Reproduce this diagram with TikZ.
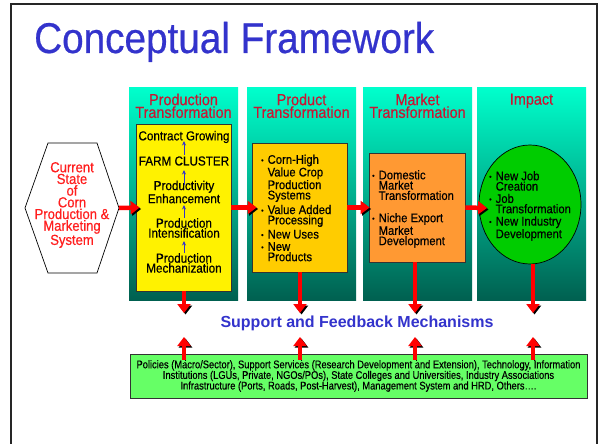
\documentclass[tikz,border=0pt]{standalone}
\usepackage{fontspec}
\setmainfont{Liberation Sans}
\newfontfamily\narrowfont[FakeStretch=0.9,FakeBold=0.5]{Liberation Sans}
\newfontfamily\slimfont[FakeStretch=0.84,FakeBold=0.4]{Liberation Sans}
\usetikzlibrary{calc,arrows.meta,shapes.geometric}
\definecolor{titleblue}{RGB}{51,51,204}
\definecolor{headred}{RGB}{204,20,50}
\definecolor{hexred}{RGB}{255,30,30}
\definecolor{coltop}{RGB}{0,255,204}
\definecolor{colbot}{RGB}{0,96,80}
\definecolor{boxgold}{RGB}{255,204,0}
\definecolor{boxorange}{RGB}{255,153,51}
\definecolor{ellgreen}{RGB}{0,204,0}
\definecolor{supgreen}{RGB}{102,255,102}
\def\bul{\makebox[6.5pt][l]{\raisebox{1pt}{\scalebox{0.6}{\textbullet}}}}
\def\ind{\hspace*{6.5pt}}

\begin{document}
\begin{tikzpicture}[x=1pt,y=-1pt,
  column/.style={minimum width=109, minimum height=212, inner sep=0, top color=coltop, bottom color=colbot},
  head/.style={text=headred, font=\narrowfont\fontsize{16}{11.5}\selectfont, align=center, inner sep=0},
  stage/.style={draw=black!80, line width=0.8pt, inner sep=0},
  item/.style={font=\narrowfont\fontsize{13}{10}\selectfont, align=center, inner sep=0},
  blist/.style={font=\narrowfont\fontsize{12.5}{10.3}\selectfont, align=left, inner sep=0, anchor=west},
  redarr/.style={draw=red, line width=4.5pt, -{Triangle[length=9pt,width=13pt]},
    preaction={draw=black, transform canvas={shift={(1.5pt,-1.5pt)}}}},
  bluearr/.style={draw=titleblue, line width=1pt, -{Stealth[length=4.5pt,width=4pt]}}]
			%%%%% START %%%%%
			\useasboundingbox (0,0) rectangle (600,444);
			\clip (0,0) rectangle (600,444);
			\fill[white] (0,0) rectangle (600,444);
			\draw[line width=1.5pt, draw=black!85] (11,4) rectangle (597,470);
			
			\node[anchor=base west, inner sep=0, text=titleblue, font=\narrowfont\fontsize{43}{43}\selectfont] (title) at (34,53) {Conceptual Framework};
			
			% the four columns
			\node[column] (c1) at (183.5,194) {};
			\node[column] (c2) at (301.5,194) {};
			\node[column] (c3) at (417.5,194) {};
			\node[column] (c4) at (531.5,194) {};
			
			\node[head] (h1) at ($(c1.north)+(0,18)$) {Production\\Transformation};
			\node[head] (h2) at ($(c2.north)+(0,18)$) {Product\\Transformation};
			\node[head] (h3) at ($(c3.north)+(0,18)$) {Market\\Transformation};
			\node[head] (h4) at ($(c4.north)+(0,13)$) {Impact};
			
			% current state
			\draw[line width=0.7pt, fill=white] (25,208) -- (48,143) -- (97,143) -- (119,208) -- (97,273) -- (48,273) -- cycle;
			\coordinate (curE) at (119,208);
			\node[text=hexred, font=\narrowfont\fontsize{14.5}{11.7}\selectfont, align=center, inner sep=0] (cur) at (72,205)
				{Current\\State\\of\\Corn\\Production \&\\Marketing\\System};
			
			% production transformation
			\node[stage, fill=yellow, minimum width=95, minimum height=167] (yel) at (183.5,207.5) {};
			\node[item] (p1) at (184,137) {Contract Growing};
			\node[item] (p2) at (184,161) {FARM CLUSTER};
			\node[item] (p3) at (184,192) {Productivity\\Enhancement};
			\node[item] (p4) at (184,228) {Production\\Intensification};
			\node[item] (p5) at (184,263) {Production\\Mechanization};
			\draw[bluearr] ($(p2)+(0,-6)$) -- ($(p1)+(0,4)$);
			\draw[bluearr] ($(p3)+(0,-7)$) -- ($(p2)+(0,9)$);
			\draw[bluearr] ($(p4)+(0,-10)$) -- ($(p3)+(0,13)$);
			\draw[bluearr] ($(p5)+(0,-10)$) -- ($(p4)+(0,13)$);
			
			% product transformation
			\node[stage, fill=boxgold, minimum width=95, minimum height=129] (pt) at (299.5,207.5) {};
			\node[blist] (ptl) at (261,208) {\bul Corn-High\\\ind Value Crop\\\ind Production\\\ind Systems\\[2pt]\bul Value Added\\\ind Processing\\[2pt]\bul New Uses\\[2pt]\bul New\\\ind Products};
			
			% market transformation
			\node[stage, fill=boxorange, minimum width=96, minimum height=109] (mt) at (417,207.5) {};
			\node[blist] (mtl) at (372,209) {\bul Domestic\\\ind Market\\\ind Transformation\\[12pt]\bul Niche Export\\\ind Market\\\ind Development};
			
			% impact
			\node[ellipse, draw=black, line width=0.7pt, fill=ellgreen, minimum width=102, minimum height=119, inner sep=0] (ell) at (530,204.5) {};
			\node[blist] (elltxt) at (489,206) {\bul New Job\\\ind Creation\\[2pt]\bul Job\\\ind Transformation\\[2pt]\bul New Industry\\\ind Development};
			\coordinate (ellW) at (479,208);
			
			% flow
			\draw[redarr] (curE) -- ([xshift=4]yel.west);
			\draw[redarr] (yel.east) -- ([xshift=5]pt.west);
			\draw[redarr] (pt.east) -- ([xshift=1]mt.west);
			\draw[redarr] (mt.east) -- ([xshift=8]ellW);
			
			% support and feedback
			\node[font=\bfseries\fontsize{16}{16}\selectfont, text=titleblue, inner sep=0] (sfm) at (357,323) {Support and Feedback Mechanisms};
			\node[stage, fill=supgreen, minimum width=457, minimum height=44, align=center,
				font=\slimfont\fontsize{11.1}{10.6}\selectfont] (sup) at (358.5,376)
				{Policies (Macro/Sector), Support Services (Research Development and Extension), Technology, Information\\
				Institutions (LGUs, Private, NGOs/POs), State Colleges and Universities, Industry Associations\\
				Infrastructure (Ports, Roads, Post-Harvest), Management System and HRD, Others\ldots.};
			
			\coordinate (dn1) at (184,313);
			\coordinate (dn2) at (300,313);
			\coordinate (dn3) at (415,313);
			\coordinate (dn4) at (533,313);
			\coordinate (up1) at (184,337);
			\coordinate (up2) at (300,337);
			\coordinate (up3) at (415,337);
			\coordinate (up4) at (533,337);
			
			\draw[redarr] (yel.south -| dn1) -- (dn1);
			\draw[redarr] (pt.south -| dn2) -- (dn2);
			\draw[redarr] (mt.south -| dn3) -- (dn3);
			\draw[redarr] (ell.south -| dn4) -- (dn4);
			
			\draw[redarr] ($(sup.north -| up1)+(0,6)$) -- (up1);
			\draw[redarr] ($(sup.north -| up2)+(0,6)$) -- (up2);
			\draw[redarr] ($(sup.north -| up3)+(0,6)$) -- (up3);
			\draw[redarr] ($(sup.north -| up4)+(0,6)$) -- (up4);
			%%%%% END %%%%%
\end{tikzpicture}
\end{document}
